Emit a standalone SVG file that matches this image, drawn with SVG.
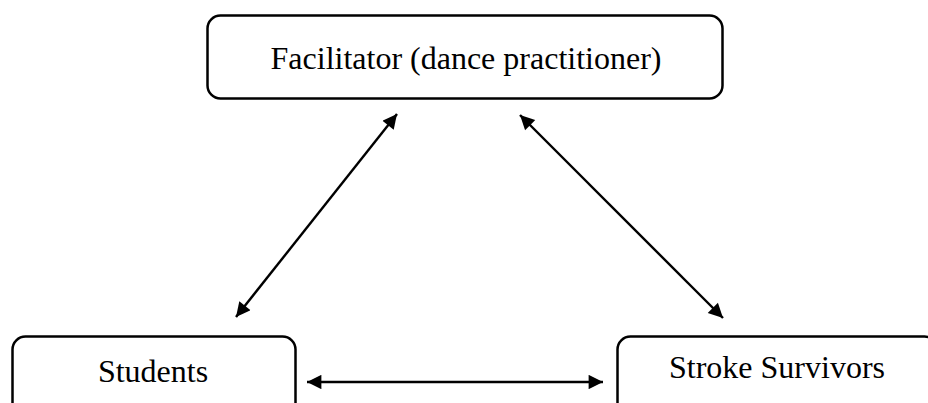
<svg xmlns="http://www.w3.org/2000/svg" width="928" height="403" viewBox="0 0 928 403">
<style>
.box{fill:#fff;stroke:#000;stroke-width:2.5}
.lbl{font-family:"Liberation Serif","Times New Roman",serif;font-size:32px;fill:#000;text-anchor:middle}
.conn{stroke:#000;stroke-width:2.4;fill:none;marker-start:url(#ah);marker-end:url(#ah)}
</style>
<defs>
<marker id="ah" viewBox="0 0 10 10" refX="10" refY="5" markerWidth="7" markerHeight="6" markerUnits="strokeWidth" orient="auto-start-reverse">
<path d="M0,0 L10,5 L0,10 z" fill="#000"/>
</marker>
</defs>
<rect width="928" height="403" fill="#fff"/>
<g id="facilitator">
<rect class="box" x="207.5" y="15.5" width="515" height="83" rx="13"/>
<text class="lbl" x="466" y="69">Facilitator (dance practitioner)</text>
</g>
<g id="students">
<rect class="box" x="12.5" y="336.5" width="283" height="90" rx="13"/>
<text class="lbl" x="153" y="382">Students</text>
</g>
<g id="stroke-survivors">
<rect class="box" x="617.5" y="336.5" width="320" height="90" rx="13"/>
<text class="lbl" x="777" y="378">Stroke Survivors</text>
</g>
<g id="connectors">
<line class="conn" x1="236" y1="317" x2="397" y2="114"/>
<line class="conn" x1="520" y1="115" x2="723" y2="318"/>
<line class="conn" x1="307" y1="382" x2="603" y2="382"/>
</g>
</svg>
